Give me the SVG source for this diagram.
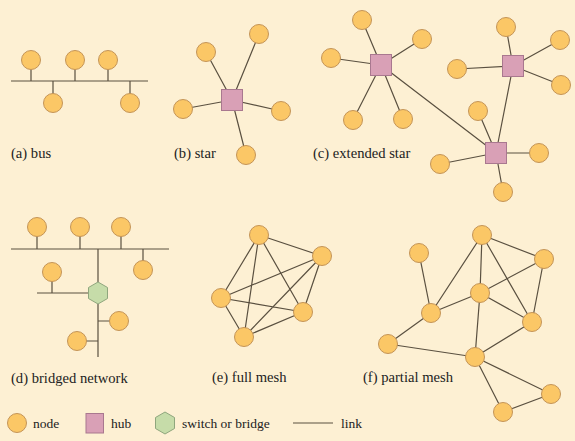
<svg xmlns="http://www.w3.org/2000/svg" width="575" height="441" viewBox="0 0 575 441">
<style>
.bg{fill:#fdf0d3}
.n{fill:#fbc766;stroke:#c49457;stroke-width:1}
.h{fill:#d9a0b6;stroke:#a9788f;stroke-width:1}
.s{fill:#c6dca9;stroke:#8fa67d;stroke-width:1}
.l{stroke:#5a5040;stroke-width:1.2;fill:none}
.t{font-family:"Liberation Serif",serif;font-size:14.6px;fill:#222}
.lg{font-family:"Liberation Serif",serif;font-size:13.5px;fill:#222}
</style>
<defs>
<circle id="nd" r="9.5" class="n"/>
<rect id="hb" x="-10.5" y="-10.5" width="21" height="21" class="h"/>
<polygon id="sw" points="0,-11 9.5,-5.5 9.5,5.5 0,11 -9.5,5.5 -9.5,-5.5" class="s"/>
</defs>
<rect class="bg" width="575" height="441"/>
<g id="connectors" class="l">
<!-- a bus -->
<path d="M11 81H148M31 69V81M75 69V81M108 69V81M53 81V94M130 81V94"/>
<!-- b star -->
<path d="M232 100L206 52M232 100L259 34M232 100L183 109M232 100L281 111M232 100L246 155"/>
<!-- c extended star -->
<path d="M381 65L362 20M381 65L422 39M381 65L331 58M381 65L353 120M381 65L403 119M381 65L496 153"/>
<path d="M513 66L506 27M513 66L560 40M513 66L457 69M513 66L561 85M513 66L496 153"/>
<path d="M496 153L478 111M496 153L539 153M496 153L440 164M496 153L503 192"/>
<!-- d bridged -->
<path d="M11 249H169M37 236V249M80 236V249M121 236V249M143 249V261M98 249V282M37 293H88M52 281V293M98 304V357M98 321H110M86 341H98"/>
<!-- e full mesh -->
<path d="M259 235L322 256M259 235L221 298M259 235L303 312M259 235L244 337M322 256L221 298M322 256L303 312M322 256L244 337M221 298L303 312M221 298L244 337M303 312L244 337"/>
<!-- f partial mesh -->
<path d="M419 253L431 313M482 235L431 313M482 235L480 293M482 235L544 259M482 235L532 322M544 259L480 293M544 259L532 322M480 293L431 313M480 293L532 322M480 293L475 357M431 313L388 344M388 344L475 357M475 357L532 322M475 357L551 394M475 357L503 412M503 412L551 394"/>
<!-- legend link -->
<path d="M293 423H333"/>
</g>
<g id="bus">
<use href="#nd" x="31" y="60"/><use href="#nd" x="75" y="60"/><use href="#nd" x="108" y="60"/>
<use href="#nd" x="53" y="103"/><use href="#nd" x="130" y="103"/>
<text class="t" x="11" y="158">(a) bus</text>
</g>
<g id="star">
<use href="#nd" x="206" y="52"/><use href="#nd" x="259" y="34"/><use href="#nd" x="183" y="109"/>
<use href="#nd" x="281" y="111"/><use href="#nd" x="246" y="155"/>
<use href="#hb" x="232" y="100"/>
<text class="t" x="174" y="158">(b) star</text>
</g>
<g id="extended-star">
<use href="#nd" x="362" y="20"/><use href="#nd" x="422" y="39"/><use href="#nd" x="331" y="58"/>
<use href="#nd" x="353" y="120"/><use href="#nd" x="403" y="119"/>
<use href="#nd" x="506" y="27"/><use href="#nd" x="560" y="40"/><use href="#nd" x="457" y="69"/><use href="#nd" x="561" y="85"/>
<use href="#nd" x="478" y="111"/><use href="#nd" x="539" y="153"/><use href="#nd" x="440" y="164"/><use href="#nd" x="503" y="192"/>
<use href="#hb" x="381" y="65"/><use href="#hb" x="513" y="66"/><use href="#hb" x="496" y="153"/>
<text class="t" x="313" y="158">(c) extended star</text>
</g>
<g id="bridged-network">
<use href="#nd" x="37" y="227"/><use href="#nd" x="80" y="227"/><use href="#nd" x="121" y="227"/>
<use href="#nd" x="143" y="270"/><use href="#nd" x="52" y="272"/>
<use href="#nd" x="119" y="321"/><use href="#nd" x="77" y="341"/>
<use href="#sw" x="98" y="293"/>
<text class="t" x="11" y="383">(d) bridged network</text>
</g>
<g id="full-mesh">
<use href="#nd" x="259" y="235"/><use href="#nd" x="322" y="256"/><use href="#nd" x="221" y="298"/>
<use href="#nd" x="303" y="312"/><use href="#nd" x="244" y="337"/>
<text class="t" x="212" y="382">(e) full mesh</text>
</g>
<g id="partial-mesh">
<use href="#nd" x="419" y="253"/><use href="#nd" x="482" y="235"/><use href="#nd" x="544" y="259"/>
<use href="#nd" x="480" y="293"/><use href="#nd" x="431" y="313"/><use href="#nd" x="532" y="322"/>
<use href="#nd" x="388" y="344"/><use href="#nd" x="475" y="357"/><use href="#nd" x="551" y="394"/>
<use href="#nd" x="503" y="412"/>
<text class="t" x="363" y="382">(f) partial mesh</text>
</g>
<g id="legend">
<use href="#nd" x="17" y="423"/>
<text class="lg" x="33" y="428">node</text>
<rect x="86" y="413.5" width="17.5" height="19.5" class="h"/>
<text class="lg" x="111" y="428">hub</text>
<use href="#sw" x="165" y="423"/>
<text class="lg" x="182" y="428">switch or bridge</text>
<text class="lg" x="341" y="428">link</text>
</g>
</svg>
